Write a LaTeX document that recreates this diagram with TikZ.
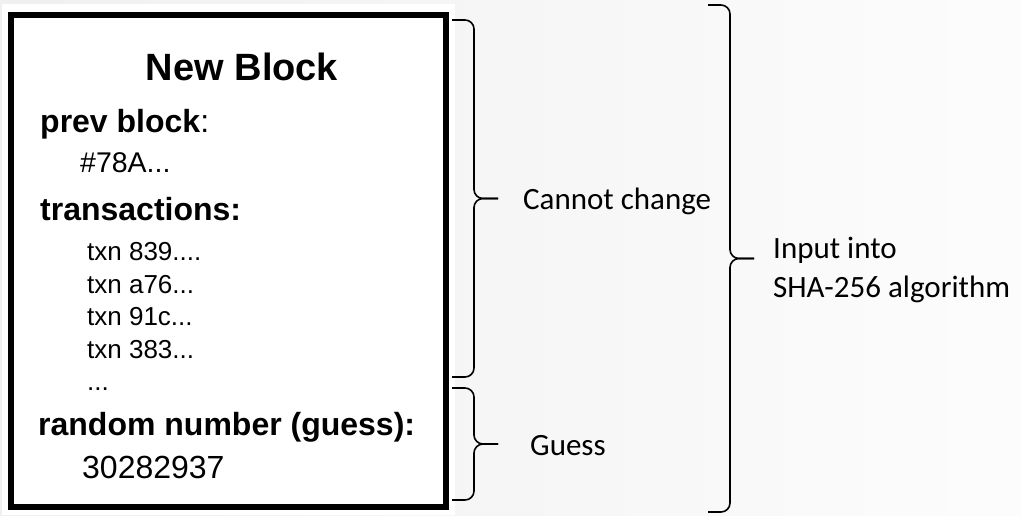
\documentclass[tikz,border=0pt]{standalone}
\usepackage{fontspec}
\setmainfont{Liberation Sans}
\newfontfamily\notefont{Carlito}
\usetikzlibrary{positioning,calc}

% curly brace opening to the right, from #1 (top end) to #2 (bottom end)
\newcommand{\curlyright}[2]{%
	\draw [brace] (#1) -- ($(#1)+(22,0)$) -- ($(#1)!0.5!(#2)+(22,0)$) -- ($(#1)!0.5!(#2)+(46,0)$);
	\draw [brace] (#2) -- ($(#2)+(22,0)$) -- ($(#1)!0.5!(#2)+(22,0)$) -- ($(#1)!0.5!(#2)+(46,0)$);
}

\begin{document}
\begin{tikzpicture}[
	x=1pt, y=-1pt,
	title/.style={anchor=base, inner sep=0pt, font=\fontsize{38}{45}\selectfont\bfseries},
	field/.style={anchor=base west, inner sep=0pt, font=\fontsize{32}{38}\selectfont\bfseries},
	value/.style={anchor=base west, inner sep=0pt, font=\fontsize{28.5}{34}\selectfont},
	txn/.style={anchor=base west, inner sep=0pt, font=\fontsize{26}{31}\selectfont},
	note/.style={anchor=base west, inner sep=0pt, font=\notefont\fontsize{31}{38}\selectfont},
	brace/.style={draw, line width=1.6pt, rounded corners=9pt, line join=round},
	]
	% page and white panel
	\useasboundingbox (0,0) rectangle (1021,515);
	\shade[left color=black!6, right color=black!1] (0,0) rectangle (1021,515);
	\fill[white] (2,4) rectangle (455,515);

	% the block
	\node [draw, line width=6pt, minimum width=435pt, minimum height=492pt, inner sep=0pt] (blk) at (228.5,261) {};
	\node [title] (nb) at (242,80) {New Block};
	\node [field] (pb) at (40,132) {prev block\textmd{:}};
	\node [value] (pbv) at (80,172) {\#78A...};
	\node [field] (tx) at (40,220) {transactions:};
	\node [txn] (t0) at (87,260.5) {txn 839....};
	\node [txn] (t1) at (87,293) {txn a76...};
	\node [txn] (t2) at (87,325.5) {txn 91c...};
	\node [txn] (t3) at (87,358) {txn 383...};
	\node [txn] (more) at (87,390.5) {...};
	\node [field] (rn) at (38,435) {random number (guess):};
	\node [field, font=\fontsize{32}{38}\selectfont] (rnv) at (82,478) {30282937};

	% braces
	\coordinate (c1) at (452,20);
	\coordinate (c2) at (452,377);
	\coordinate (g1) at (452,388);
	\coordinate (g2) at (452,500);
	\coordinate (a1) at (708,5);
	\coordinate (a2) at (708,512);
	\curlyright{c1}{c2}
	\curlyright{g1}{g2}
	\curlyright{a1}{a2}

	\node [note] (cc) at (523,209) {Cannot change};
	\node [note] (gs) at (530,455) {Guess};
	\node [note] (in) at (773,258) {Input into};
	\node [note] (sha) at (773,297) {SHA-256 algorithm};
\end{tikzpicture}
\end{document}
